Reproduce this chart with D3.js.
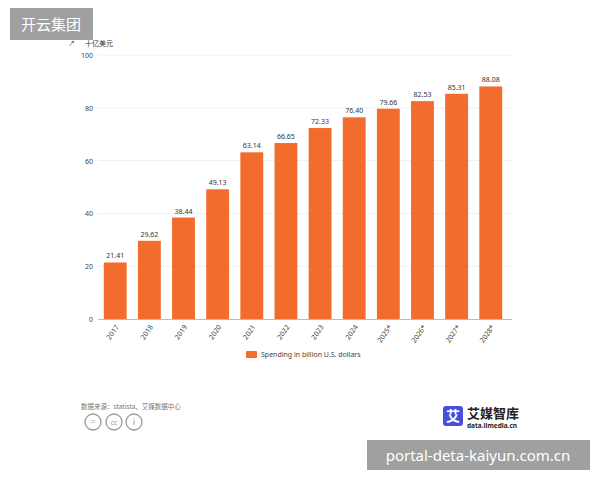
<!DOCTYPE html><html><head><meta charset="utf-8"><script src="https://cdn.jsdelivr.net/npm/d3@7"></script>
<style>body{margin:0;background:#fff;font-family:"Noto Sans","Noto Sans CJK SC",sans-serif}</style></head><body><svg id="c" width="600" height="480"></svg>
<script>
const categories=["2017","2018","2019","2020","2021","2022","2023","2024","2025*","2026*","2027*","2028*"];
const values=[21.41,29.62,38.44,49.13,63.14,66.65,72.33,76.40,79.66,82.53,85.31,88.08];
const yTicks=[0,20,40,60,80,100];
const svg=d3.select("#c");
const x=d3.scaleBand().domain(categories).range([98,508]).paddingInner(0.33).paddingOuter(0.17);
const y=d3.scaleLinear().domain([0,100]).range([319,55]);
const cjk='"Noto Sans CJK SC",sans-serif';
svg.append("g").selectAll("line").data(yTicks.slice(1)).join("line")
 .attr("x1",98).attr("x2",512).attr("y1",d=>y(d)).attr("y2",d=>y(d)).attr("stroke","#f0f0f0");
svg.append("line").attr("x1",98).attr("x2",512).attr("y1",y(0)+0.5).attr("y2",y(0)+0.5).attr("stroke","#bbb");
svg.append("g").selectAll("text").data(yTicks).join("text").attr("x",93).attr("y",d=>y(d)+3)
 .attr("text-anchor","end").attr("font-size",7).attr("fill","#444").text(d=>d);
svg.append("text").attr("x",85).attr("y",46).attr("font-size",7).attr("fill","#333").attr("font-family",cjk).text("十亿美元");
svg.append("text").attr("x",68).attr("y",46).attr("font-size",7).attr("fill","#333").text("↗");
svg.append("g").selectAll("rect").data(values).join("rect")
 .attr("x",(d,i)=>x(categories[i])).attr("width",x.bandwidth()).attr("y",d=>y(d)).attr("height",d=>y(0)-y(d)).attr("fill","#f26d2d");
svg.append("g").selectAll("text").data(values).join("text").attr("x",(d,i)=>x(categories[i])+x.bandwidth()/2).attr("y",d=>y(d)-4)
 .attr("text-anchor","middle").attr("font-size",7).attr("fill","#333").text(d=>d.toFixed(2));
svg.append("g").selectAll("text").data(categories).join("text")
 .attr("transform",d=>`translate(${x(d)+x.bandwidth()/2+4},${327}) rotate(-55)`)
 .attr("text-anchor","end").attr("font-size",7).attr("fill","#444").text(d=>d);
svg.append("rect").attr("x",246).attr("y",351).attr("width",11).attr("height",7).attr("rx",1).attr("fill","#f26d2d");
svg.append("text").attr("x",261).attr("y",357).attr("font-size",7).attr("fill","#444").text("Spending in billion U.S. dollars");
svg.append("text").attr("x",81).attr("y",409).attr("font-size",6.5).attr("fill","#777").attr("font-family",cjk).text("数据来源：statista、艾媒数据中心");
[93,114,134].forEach((cx,i)=>{svg.append("circle").attr("cx",cx).attr("cy",422).attr("r",8).attr("fill","none").attr("stroke","#999").attr("stroke-width",1.3);
 svg.append("text").attr("x",cx).attr("y",425).attr("text-anchor","middle").attr("font-size",i==1?7:9).attr("fill","#999").text(["=","cc","ⓘ"][i]==="ⓘ"?"i":["=","cc"][i]);});
svg.append("rect").attr("x",443).attr("y",406).attr("width",20).attr("height",20).attr("rx",3).attr("fill","#4a4fd6");
svg.append("text").attr("x",453).attr("y",421).attr("text-anchor","middle").attr("font-size",14).attr("font-weight","bold").attr("fill","#fff").attr("font-family",cjk).text("艾");
svg.append("text").attr("x",467).attr("y",418).attr("font-size",13).attr("font-weight","bold").attr("fill","#222").attr("font-family",cjk).text("艾媒智库");
svg.append("text").attr("x",467).attr("y",428).attr("font-size",6.5).attr("font-weight","bold").attr("fill","#222").text("data.iimedia.cn");
svg.append("rect").attr("x",10).attr("y",8).attr("width",83).attr("height",32).attr("fill","#a0a0a0");
svg.append("text").attr("x",51).attr("y",30).attr("text-anchor","middle").attr("font-size",15).attr("fill","#fff").attr("font-family",cjk).text("开云集团");
svg.append("rect").attr("x",367).attr("y",440).attr("width",223).attr("height",30).attr("fill","#a0a0a0");
svg.append("text").attr("x",478).attr("y",461).attr("text-anchor","middle").attr("font-size",15).attr("fill","#fff").text("portal-deta-kaiyun.com.cn");
</script></body></html>
